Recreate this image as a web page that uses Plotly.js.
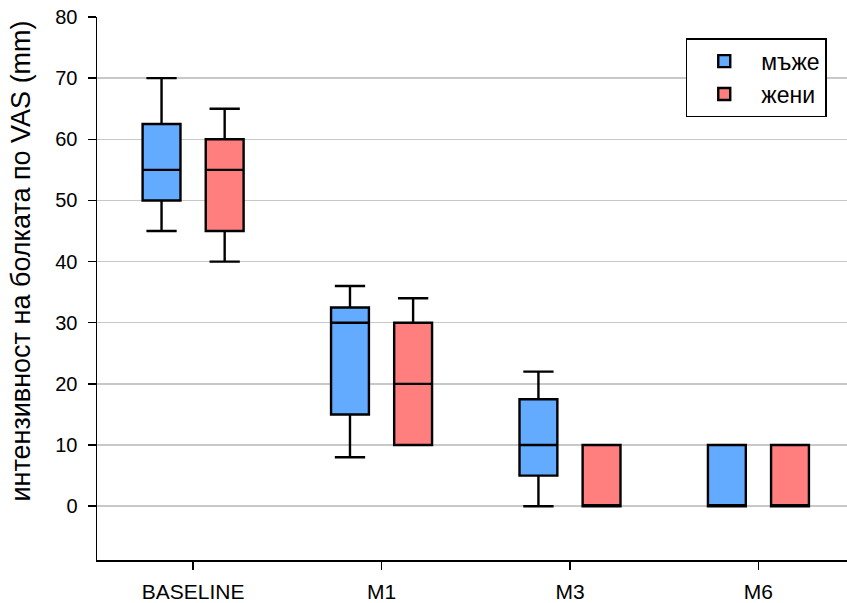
<!DOCTYPE html>
<html>
<head>
<meta charset="utf-8">
<script src="https://cdn.plot.ly/plotly-3.0.1.min.js"></script>
<style>
  html, body { margin: 0; padding: 0; background: #fff; }
  #chart { width: 847px; height: 603px; }
</style>
</head>
<body>
<div id="chart"></div>
<script>
// Time points of the follow-up
const periods = ['BASELINE', 'M1', 'M3', 'M6'];

// Pain intensity on VAS (mm), men
const menLower  = [45, 8, 0, 0];
const menQ1     = [50, 15, 5, 0];
const menMedian = [55, 30, 10, 0];
const menQ3     = [62.5, 32.5, 17.5, 10];
const menUpper  = [70, 36, 22, 10];

// Pain intensity on VAS (mm), women
const womenLower  = [40, 10, 0, 0];
const womenQ1     = [45, 10, 0, 0];
const womenMedian = [55, 20, 0, 0];
const womenQ3     = [60, 30, 10, 10];
const womenUpper  = [65, 34, 10, 10];

const yTicks = [0, 10, 20, 30, 40, 50, 60, 70, 80];

const font = 'Liberation Sans, Arial, sans-serif';

function boxTrace(name, color, lo, q1, med, q3, hi) {
  return {
    type: 'box',
    name: name,
    x: periods,
    lowerfence: lo,
    q1: q1,
    median: med,
    q3: q3,
    upperfence: hi,
    fillcolor: color,
    line: { color: '#000000', width: 2.4 },
    whiskerwidth: 0.8,
    hoverinfo: 'y'
  };
}

const data = [
  boxTrace('мъже', '#63abff', menLower, menQ1, menMedian, menQ3, menUpper),
  boxTrace('жени', '#ff7f7f', womenLower, womenQ1, womenMedian, womenQ3, womenUpper)
];

const layout = {
  width: 847,
  height: 603,
  margin: { l: 97, r: 0, t: 17, b: 43 },
  paper_bgcolor: '#ffffff',
  plot_bgcolor: '#ffffff',
  font: { family: font, size: 20, color: '#000000' },
  boxmode: 'group',
  boxgap: 0.33,
  boxgroupgap: 0.4,
  showlegend: true,
  legend: {
    x: 0.785, y: 0.961, xanchor: 'left', yanchor: 'top',
    bgcolor: '#ffffff',
    bordercolor: '#000000',
    borderwidth: 1.5,
    font: { family: font, size: 23, color: '#000000' },
    itemwidth: 64,
    tracegroupgap: 0
  },
  xaxis: {
    type: 'category',
    range: [-0.51, 3.47],
    showline: true,
    linecolor: '#000000',
    linewidth: 1.5,
    ticks: 'outside',
    ticklen: 8,
    tickwidth: 1.5,
    tickcolor: '#000000',
    showgrid: false,
    zeroline: false,
    ticklabelstandoff: 4,
    tickfont: { family: font, size: 21, color: '#000000' }
  },
  yaxis: {
    range: [-8.8, 80],
    tickvals: yTicks,
    ticktext: yTicks.map(String),
    showline: true,
    linecolor: '#000000',
    linewidth: 1.5,
    ticks: 'outside',
    ticklen: 8,
    tickwidth: 1.5,
    tickcolor: '#000000',
    showgrid: true,
    gridcolor: '#c8c8c8',
    gridwidth: 1.5,
    zeroline: false,
    ticklabelstandoff: 6,
    tickfont: { family: font, size: 20, color: '#000000' }
  },
  annotations: [{
    text: 'интензивност на болката по VAS (mm)',
    textangle: -90,
    xref: 'paper', yref: 'y',
    x: 0, y: 40,
    xanchor: 'center', yanchor: 'middle',
    xshift: -76,
    showarrow: false,
    font: { family: font, size: 27, color: '#000000' }
  }]
};

Plotly.newPlot('chart', data, layout, { displayModeBar: false, staticPlot: true });
</script>
</body>
</html>
